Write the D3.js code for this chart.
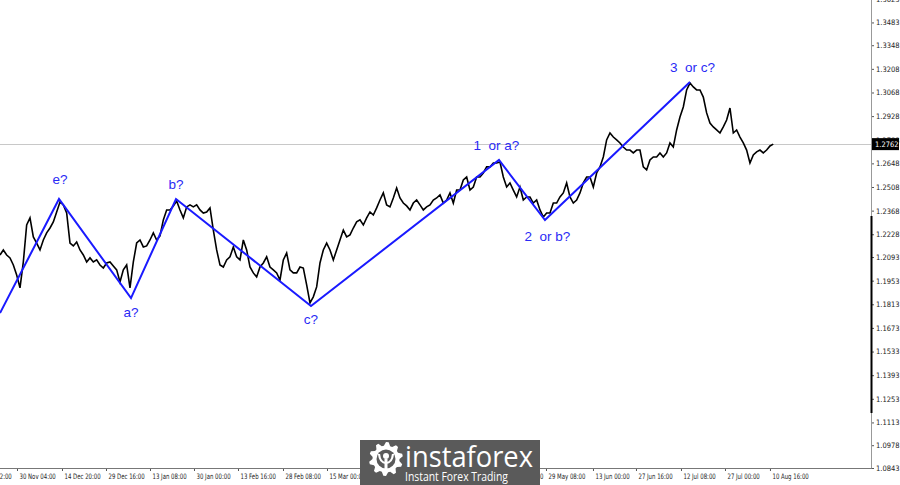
<!DOCTYPE html>
<html><head><meta charset="utf-8">
<script src="https://cdn.jsdelivr.net/npm/d3@7"></script>
<style>html,body{margin:0;padding:0;background:#fff;overflow:hidden}svg{display:block}</style>
</head><body>
<svg id="c" width="900" height="485"></svg>
<script>
// ---- data ----
const closes = [
1.2105,1.2135,1.2105,1.2088,1.2046,1.1987,1.1910,1.2064,1.2283,1.2325,
1.2212,1.2176,1.2135,1.2194,1.2236,1.2265,1.2301,1.2360,1.2419,1.2402,
1.2354,1.2176,1.2159,1.2182,1.2135,1.2105,1.2064,1.2088,1.2064,1.2076,
1.2046,1.2028,1.2058,1.2064,1.2040,1.2017,1.1945,1.2017,1.2046,1.1910,
1.2064,1.2176,1.2194,1.2153,1.2159,1.2194,1.2236,1.2194,1.2218,1.2313,
1.2372,1.2372,1.2396,1.2425,1.2372,1.2325,1.2390,1.2402,1.2390,1.2402,
1.2372,1.2354,1.2360,1.2384,1.2253,1.2135,1.2046,1.2034,1.2076,1.2094,
1.2153,1.2094,1.2076,1.2194,1.2135,1.2034,1.1999,1.1975,1.2034,1.2058,
1.2094,1.2034,1.2017,1.1999,1.1957,1.2076,1.2117,1.2017,1.1999,1.1999,
1.2034,1.2028,1.1928,1.1821,1.1857,1.1916,1.2058,1.2135,1.2176,1.2135,
1.2076,1.2135,1.2194,1.2253,1.2212,1.2224,1.2265,1.2301,1.2313,1.2283,
1.2325,1.2360,1.2342,1.2384,1.2431,1.2473,1.2402,1.2390,1.2443,1.2502,
1.2443,1.2413,1.2396,1.2372,1.2413,1.2431,1.2402,1.2372,1.2390,1.2402,
1.2431,1.2443,1.2461,1.2413,1.2431,1.2473,1.2413,1.2490,1.2490,1.2550,
1.2567,1.2490,1.2508,1.2567,1.2567,1.2591,1.2627,1.2627,1.2650,1.2650,
1.2656,1.2567,1.2508,1.2532,1.2490,1.2449,1.2508,1.2431,1.2449,1.2449,
1.2413,1.2431,1.2372,1.2330,1.2354,1.2354,1.2413,1.2413,1.2449,1.2473,
1.2532,1.2449,1.2413,1.2431,1.2473,1.2532,1.2567,1.2567,1.2508,1.2591,
1.2627,1.2686,1.2787,1.2828,1.2804,1.2787,1.2769,1.2745,1.2727,1.2727,
1.2710,1.2727,1.2727,1.2627,1.2609,1.2668,1.2686,1.2686,1.2710,1.2686,
1.2710,1.2769,1.2745,1.2846,1.2923,1.2982,1.3083,1.3124,1.3101,1.3083,
1.3083,1.3041,1.2947,1.2887,1.2864,1.2846,1.2828,1.2864,1.2905,1.2976,
1.2828,1.2846,1.2804,1.2769,1.2727,1.2650,1.2698,1.2716,1.2727,1.2710,
1.2727,1.2751,1.2762
];
const waveIndex = [0, 17.7, 39.3, 52.8, 93.3, 149.7, 163.5, 207];
const wavePrice = [1.1761, 1.2437, 1.1850, 1.2437, 1.1803, 1.2668, 1.2312, 1.3130];
const waveLabels = [null, "e?", "a?", "b?", "c?", "1  or a?", "2  or b?", "3  or c?"];
const priceTicks = [1.0843,1.0978,1.1113,1.1253,1.1393,1.1533,1.1673,1.1813,1.1953,1.2093,
  1.2228,1.2368,1.2508,1.2648,1.2788,1.2928,1.3068,1.3208,1.3348,1.3483,1.3623];
const timeLabels = ["13 Nov 12:00","30 Nov 04:00","14 Dec 20:00","29 Dec 16:00","13 Jan 08:00",
  "30 Jan 00:00","13 Feb 16:00","28 Feb 08:00","15 Mar 00:00","13 May 16:00","29 May 08:00",
  "13 Jun 00:00","27 Jun 16:00","12 Jul 08:00","27 Jul 00:00","10 Aug 16:00"];
const timeIndex = [-8.1,5.1,18.6,31.8,45,58.2,71.4,84.9,98.1,151.2,163.8,177.9,190.8,204.3,217.5,231];
const currentPrice = 1.2762;

// ---- layout ----
const W = 900, H = 485, axisX = 871, axisY = 468;
const labelOffsets = [null,[1,-15],[0,19],[0,-10],[0,18],[-2.5,-10],[2.5,21],[2.5,-10]];

const svg = d3.select("#c");
const x = d3.scaleLinear().domain([0, 232]).range([0, 773.3]);
const y = d3.scaleLinear().domain([1.0843, 1.3616]).range([axisY, 0]);

svg.append("defs").append("clipPath").attr("id","plot")
  .append("rect").attr("x",0).attr("y",0).attr("width",axisX).attr("height",axisY);

// current price line
svg.append("line").attr("x1",0).attr("x2",axisX)
  .attr("y1",Math.round(y(currentPrice))+0.5).attr("y2",Math.round(y(currentPrice))+0.5)
  .attr("stroke","#c8c8c8").attr("stroke-width",1);

const plot = svg.append("g").attr("clip-path","url(#plot)");

// price series
plot.append("path").datum(closes)
  .attr("d", d3.line().x((d,i)=>x(i)).y(d=>y(d)))
  .attr("fill","none").attr("stroke","#000").attr("stroke-width",1.6).attr("stroke-linejoin","miter");

// wave line
const wave = waveIndex.map((d,i)=>({i:d,p:wavePrice[i],t:waveLabels[i],k:i}));
plot.append("path").datum(wave)
  .attr("d", d3.line().x(d=>x(d.i)).y(d=>y(d.p)))
  .attr("fill","none").attr("stroke","#1a1aff").attr("stroke-width",2);

svg.append("g").selectAll("text").data(wave.filter(d=>d.t)).join("text")
  .attr("x",d=>x(d.i)+labelOffsets[d.k][0])
  .attr("y",d=>y(d.p)+labelOffsets[d.k][1])
  .attr("text-anchor","middle")
  .attr("font-family","'Liberation Sans', Arial, sans-serif")
  .attr("font-size",13.5).attr("fill","#2a2af5")
  .style("white-space","pre")
  .text(d=>d.t);

// right axis
const yAxis = d3.axisRight(y).tickValues(priceTicks).tickSize(3).tickFormat(d3.format(".4f"));
const ya = svg.append("g").attr("transform",`translate(${axisX},0)`).call(yAxis);
ya.select(".domain").remove();
ya.selectAll(".tick line").attr("stroke","#555");
ya.selectAll(".tick text").attr("x",0).attr("dy","0.32em")
  .attr("transform","translate(5,0) scale(0.9,1)")
  .attr("font-family","Tahoma, 'DejaVu Sans', sans-serif").attr("font-size",7.5).attr("fill","#222");

svg.append("line").attr("x1",axisX+0.5).attr("x2",axisX+0.5).attr("y1",0).attr("y2",axisY)
  .attr("stroke","#999").attr("stroke-width",1);
svg.append("rect").attr("x",axisX-0.5).attr("y",216).attr("width",2).attr("height",197).attr("fill","#000");

// bottom axis
const xAxis = d3.axisBottom(x).tickValues(timeIndex).tickSize(3).tickFormat((d,i)=>timeLabels[i]);
const xa = svg.append("g").attr("transform",`translate(0,${axisY})`).call(xAxis);
xa.select(".domain").remove();
xa.selectAll(".tick line").attr("stroke","#555");
xa.selectAll(".tick text").attr("x",0).attr("y",0).attr("dy",0)
  .attr("text-anchor","start")
  .attr("transform","translate(2,11) scale(0.72,1)")
  .attr("font-family","Tahoma, 'DejaVu Sans', sans-serif").attr("font-size",7.5).attr("fill","#222");
svg.append("line").attr("x1",0).attr("x2",axisX+1).attr("y1",axisY+0.5).attr("y2",axisY+0.5)
  .attr("stroke","#777").attr("stroke-width",1);

// current price badge
const cy = y(currentPrice);
svg.append("rect").attr("x",axisX+1).attr("y",cy-6).attr("width",27).attr("height",12).attr("fill","#000");
svg.append("text").attr("x",0).attr("y",0)
  .attr("transform",`translate(${axisX+4},${cy+3}) scale(0.9,1)`)
  .attr("font-family","Tahoma, 'DejaVu Sans', sans-serif").attr("font-size",7.5).attr("fill","#fff")
  .text(d3.format(".4f")(currentPrice));

// logo
const logo = svg.append("g");
logo.append("rect").attr("x",360).attr("y",440).attr("width",180).attr("height",45).attr("fill","#5a5a5a");
const gx = 386, gy = 459, teeth = 10, ro = 17, ri = 13.5;
const gearPts = [];
for (let k=0;k<teeth*4;k++){
  const a = (k/(teeth*4))*2*Math.PI - Math.PI/2;
  const r = (k%4<2) ? ro : ri;
  gearPts.push([gx + r*Math.cos(a), gy + r*Math.sin(a)]);
}
logo.append("path").attr("d", d3.line().curve(d3.curveLinearClosed)(gearPts)).attr("fill","#fff");
logo.append("circle").attr("cx",gx).attr("cy",gy).attr("r",9.5).attr("fill","#5a5a5a");
logo.append("circle").attr("cx",gx).attr("cy",gy-3).attr("r",3).attr("fill","#fff");
logo.append("rect").attr("x",gx-1.5).attr("y",gy).attr("width",3).attr("height",10).attr("fill","#fff");
logo.append("path").attr("d",`M${gx-7},${gy-5} Q${gx-6},${gy+4} ${gx},${gy+4} Q${gx+6},${gy+4} ${gx+7},${gy-5}`)
  .attr("fill","none").attr("stroke","#fff").attr("stroke-width",2.2);
logo.append("text").attr("x",405).attr("y",467)
  .attr("font-family","'Open Sans', sans-serif").attr("font-size",30).attr("fill","#fff")
  .attr("textLength",128).attr("lengthAdjust","spacingAndGlyphs").text("instaforex");
logo.append("text").attr("x",405).attr("y",481)
  .attr("font-family","'Open Sans', sans-serif").attr("font-size",12.5).attr("fill","#fff")
  .attr("textLength",103).attr("lengthAdjust","spacingAndGlyphs").text("Instant Forex Trading");
</script>
</body></html>
